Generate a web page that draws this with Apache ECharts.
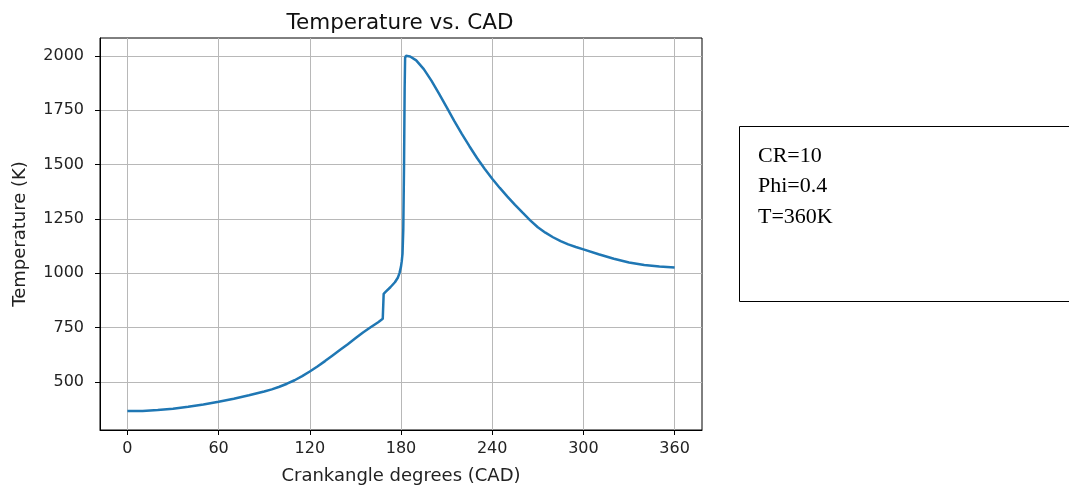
<!DOCTYPE html>
<html>
<head>
<meta charset="utf-8">
<script src="https://cdn.jsdelivr.net/npm/echarts@6/dist/echarts.min.js"></script>
<style>
  html, body { margin: 0; padding: 0; background: #fff; }
  #chart { width: 1069px; height: 490px; }
</style>
</head>
<body>
<div id="chart"></div>
<script>
// crank angle (deg) and temperature (K)
const cad = [0, 10, 20, 30, 40, 50, 60, 70, 80, 90, 95, 100, 105, 110, 115, 120, 125, 130, 135, 140, 145, 150, 155, 160, 165, 168,
  168.6, 170, 173, 176, 178, 179, 180, 180.5, 181, 181.5, 182, 182.4, 182.7, 183.2,
  186, 190, 195, 200, 205, 210, 215, 220, 225, 230, 235, 240, 245, 250, 255, 260, 265, 270, 275, 280, 285, 290, 295, 300,
  310, 320, 330, 340, 350, 360];
const temp = [365, 366, 370, 376, 385, 395, 408, 422, 438, 455, 465, 477, 491, 507, 526, 547, 570, 595, 621, 647, 673, 700, 727, 751, 774, 790,
  905, 915, 935, 958, 980, 1000, 1030, 1055, 1090, 1200, 1500, 1850, 1990, 2000,
  1997, 1979, 1939, 1886, 1826, 1764, 1701, 1641, 1584, 1530, 1480, 1434, 1392, 1352, 1314, 1278, 1243, 1211, 1186, 1165, 1147, 1132, 1120, 1109,
  1087, 1066, 1049, 1037, 1030, 1026];
const xTicks = [0, 60, 120, 180, 240, 300, 360];
const yTicks = [500, 750, 1000, 1250, 1500, 1750, 2000];
const notes = ['CR=10', 'Phi=0.4', 'T=360K'];

const font = 'DejaVu Sans';
let myChart = echarts.init(document.getElementById('chart'));

myChart.setOption({
  animation: false,
  title: {
    text: 'Temperature vs. CAD',
    left: 395,
    textAlign: 'center',
    top: 7,
    textStyle: { fontFamily: font, fontSize: 21.5, fontWeight: 'normal', color: '#111' }
  },
  grid: {
    left: 100, top: 38, width: 602, height: 392,
    show: true, borderColor: '#000', borderWidth: 1, backgroundColor: 'transparent'
  },
  xAxis: {
    type: 'value',
    min: -18, max: 378,
    name: 'Crankangle degrees (CAD)',
    nameLocation: 'middle',
    nameGap: 37,
    nameTextStyle: { fontFamily: font, fontSize: 18, color: '#222' },
    axisLine: { show: true, onZero: false, lineStyle: { color: '#000', width: 1 } },
    axisTick: { show: true, length: 5, customValues: xTicks, lineStyle: { color: '#000' } },
    axisLabel: { customValues: xTicks, formatter: v => String(v), fontFamily: font, fontSize: 16, color: '#222', margin: 11 },
    splitLine: { show: true, lineStyle: { color: '#b8b8b8', width: 1 } }
  },
  yAxis: {
    type: 'value',
    min: 278, max: 2082,
    name: 'Temperature (K)',
    nameLocation: 'middle',
    nameGap: 71,
    nameTextStyle: { fontFamily: font, fontSize: 18, color: '#222' },
    axisLine: { show: true, onZero: false, lineStyle: { color: '#000', width: 1 } },
    axisTick: { show: true, length: 5, customValues: yTicks, lineStyle: { color: '#000' } },
    axisLabel: { customValues: yTicks, formatter: v => String(v), fontFamily: font, fontSize: 16, color: '#222', margin: 16 },
    splitLine: { show: true, lineStyle: { color: '#b8b8b8', width: 1 } }
  },
  series: [{
    type: 'line',
    data: cad.map((c, i) => [c, temp[i]]),
    showSymbol: false,
    smooth: false,
    lineStyle: { color: '#1f77b4', width: 2.5 },
    itemStyle: { color: '#1f77b4' }
  }],
  graphic: [
    {
      type: 'rect',
      shape: { x: 739.5, y: 126.5, width: 340, height: 175 },
      style: { fill: '#fff', stroke: '#000', lineWidth: 1 }
    }
  ].concat(notes.map((t, i) => ({
    type: 'text',
    left: 758,
    top: 145 + i * 30.5,
    style: { text: t, font: '22px "Liberation Serif"', fill: '#000' }
  })))
});
</script>
</body>
</html>
